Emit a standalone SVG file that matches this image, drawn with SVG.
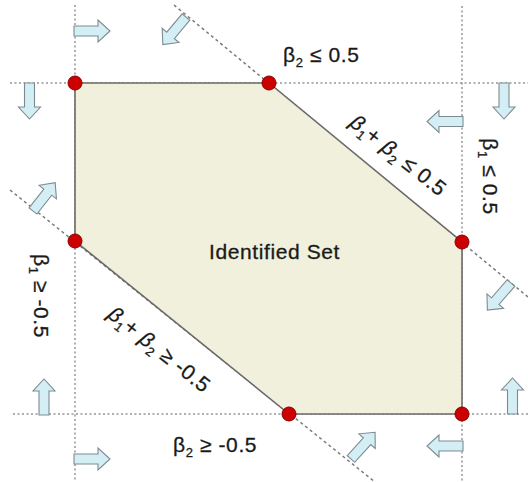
<svg xmlns="http://www.w3.org/2000/svg" width="528" height="482" viewBox="0 0 528 482">
  <style>
    .dot { fill:none; stroke:#959595; stroke-width:1.5; stroke-dasharray:2 2.5; }
    .dotd { fill:none; stroke:#7a7a7a; stroke-width:1.5; stroke-dasharray:3 3; }
    .vtx { fill:#cc0000; stroke:#8a0000; stroke-width:1; }
    .arr { fill:#d4eef5; stroke:#7d8b90; stroke-width:1.1; }
    .lbl { font-family:"Liberation Sans", Arial, sans-serif; font-size:21px; fill:#1a1a1a; stroke:#1a1a1a; stroke-width:0.3; letter-spacing:0.6px; }
    .sub { font-size:13px; }
    .it { font-style:italic; }
  </style>
  <defs>
    <path id="blk" class="arr" d="M0,-5 H24 V-11 L36,0 L24,11 V5 H0 Z"/>
  </defs>

  <g id="constraints">
    <line class="dot" x1="75" y1="5" x2="75" y2="482"/>
    <line class="dot" x1="462" y1="6" x2="462" y2="482"/>
    <line class="dot" x1="10" y1="83" x2="528" y2="83"/>
    <line class="dot" x1="13" y1="414" x2="528" y2="414"/>
    <line class="dotd" x1="174" y1="5" x2="528" y2="297"/>
    <line class="dotd" x1="10" y1="190" x2="375" y2="482"/>
  </g>

  <g id="identified-set">
    <polygon points="75,83 269,83 462,242 462,414 289,414 75,241" fill="#f1f0dc" stroke="#6a6a6a" stroke-width="1.6"/>
    <text class="lbl" x="274.5" y="259" text-anchor="middle">Identified Set</text>
  </g>

  <g id="arrows">
    <use href="#blk" transform="translate(74,31)"/>
    <use href="#blk" transform="translate(186,17) rotate(130)"/>
    <use href="#blk" transform="translate(29.5,83) rotate(90)"/>
    <use href="#blk" transform="translate(33,211) rotate(-52)"/>
    <use href="#blk" transform="translate(463,121.5) rotate(180)"/>
    <use href="#blk" transform="translate(504,83) rotate(90)"/>
    <use href="#blk" transform="translate(44,415) rotate(-90)"/>
    <use href="#blk" transform="translate(74,459)"/>
    <use href="#blk" transform="translate(511,283) rotate(131)"/>
    <use href="#blk" transform="translate(512.5,414) rotate(-90)"/>
    <use href="#blk" transform="translate(351,459) rotate(-48)"/>
    <use href="#blk" transform="translate(463,446) rotate(180)"/>
  </g>

  <g id="vertices">
    <circle class="vtx" cx="75" cy="83" r="7"/>
    <circle class="vtx" cx="269" cy="83" r="7"/>
    <circle class="vtx" cx="462" cy="242" r="7"/>
    <circle class="vtx" cx="462" cy="414" r="7"/>
    <circle class="vtx" cx="289" cy="414" r="7"/>
    <circle class="vtx" cx="75" cy="241" r="7"/>
  </g>

  <g id="labels">
    <text id="lbl-b2-le" class="lbl" x="283" y="62">β<tspan class="sub" dy="5">2</tspan><tspan dy="-5"> ≤ 0.5</tspan></text>
    <text id="lbl-b2-ge" class="lbl" x="173" y="452">β<tspan class="sub" dy="5">2</tspan><tspan dy="-5"> ≥ -0.5</tspan></text>
    <text id="lbl-b1-le" class="lbl" x="483" y="176.5" text-anchor="middle" transform="rotate(90 483 176.5)">β<tspan class="sub" dy="5">1</tspan><tspan dy="-5"> ≤ 0.5</tspan></text>
    <text id="lbl-b1-ge" class="lbl" x="34" y="296" text-anchor="middle" transform="rotate(90 34 296)">β<tspan class="sub" dy="5">1</tspan><tspan dy="-5"> ≥ -0.5</tspan></text>
    <text id="lbl-sum-le" class="lbl" x="394" y="161" text-anchor="middle" transform="rotate(38.5 394 161)"><tspan class="it">β</tspan><tspan class="sub" dy="5">1</tspan><tspan dy="-5">+ </tspan><tspan class="it">β</tspan><tspan class="sub" dy="5">2</tspan><tspan dy="-5"> ≤ 0.5</tspan></text>
    <text id="lbl-sum-ge" class="lbl" x="155" y="355" text-anchor="middle" transform="rotate(38.5 155 355)"><tspan class="it">β</tspan><tspan class="sub" dy="5">1</tspan><tspan dy="-5">+ </tspan><tspan class="it">β</tspan><tspan class="sub" dy="5">2</tspan><tspan dy="-5"> ≥ -0.5</tspan></text>
  </g>
</svg>
